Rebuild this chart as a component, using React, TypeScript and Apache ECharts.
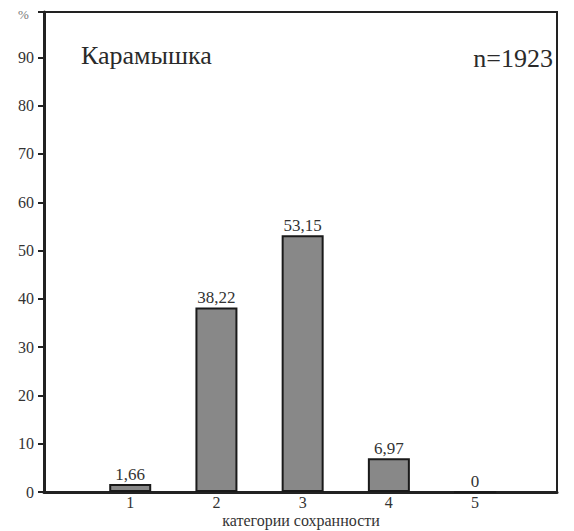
import React, { useEffect, useRef } from "react";
import * as echarts from "echarts";

const categories = [1, 2, 3, 4, 5];
const values = [1.66, 38.22, 53.15, 6.97, 0];
const yTicks = [0, 10, 20, 30, 40, 50, 60, 70, 80, 90];
const titleText = "Карамышка";
const nText = "n=1923";
const xName = "категории сохранности";
const yUnit = "%";

const FONT = "Liberation Serif";

export default function App() {
  const ref = useRef<HTMLDivElement>(null);
  useEffect(() => {
    if (!ref.current) return;
    const chart = echarts.init(ref.current, null, { renderer: "svg" });
    chart.setOption({
      animation: false,
      backgroundColor: "#fff",
      textStyle: { fontFamily: FONT },
      grid: {
        left: 36, top: 4, right: 9, bottom: 39,
        show: true, borderColor: "#222", borderWidth: 2,
        containLabel: false, outerBoundsMode: "none",
      },
      graphic: [
        { type: "text", left: 73, top: 34, style: { text: titleText, fontFamily: FONT, fontSize: 26, fill: "#2a2a2a" } },
        { type: "text", right: 13, top: 37, style: { text: nText, fontFamily: FONT, fontSize: 26, fill: "#2a2a2a" } },
        { type: "text", left: 10, top: 0, style: { text: yUnit, fontFamily: FONT, fontSize: 13, fill: "#777" } },
        {
          type: "text", x: 293, y: 504,
          style: { text: xName, fontFamily: FONT, fontSize: 16, fill: "#333", textAlign: "center", textVerticalAlign: "top" },
        },
      ],
      xAxis: {
        type: "value",
        min: 0,
        max: 5.95,
        interval: 1,
        splitLine: { show: false },
        axisTick: { show: false },
        axisLine: { show: true, lineStyle: { color: "#222", width: 3 } },
        axisLabel: {
          margin: 2,
          color: "#333",
          fontFamily: FONT,
          fontSize: 16,
          formatter: (v: number) => (categories.includes(v) ? String(v) : ""),
        },
      },
      yAxis: {
        type: "value",
        min: 0,
        max: 99.4,
        interval: 10,
        splitLine: { show: false },
        axisLine: { show: true, lineStyle: { color: "#222", width: 3 } },
        axisTick: { show: true, length: 6, lineStyle: { color: "#222", width: 2 } },
        axisLabel: {
          margin: 10,
          color: "#333",
          fontFamily: FONT,
          fontSize: 16,
          formatter: (v: number) => (yTicks.includes(v) ? String(v) : ""),
        },
      },
      series: [
        {
          type: "bar",
          barWidth: 42,
          data: categories.map((c, i) => [c, values[i]]),
          itemStyle: { color: "#888", borderColor: "#1a1a1a", borderWidth: 2 },
          label: {
            show: true,
            position: "top",
            distance: 1,
            color: "#333",
            fontFamily: FONT,
            fontSize: 17,
            formatter: (p: any) => String(p.value[1]).replace(".", ","),
          },
        },
      ],
    });
    return () => chart.dispose();
  }, []);
  return <div ref={ref} style={{ width: 558, height: 523 }} />;
}
